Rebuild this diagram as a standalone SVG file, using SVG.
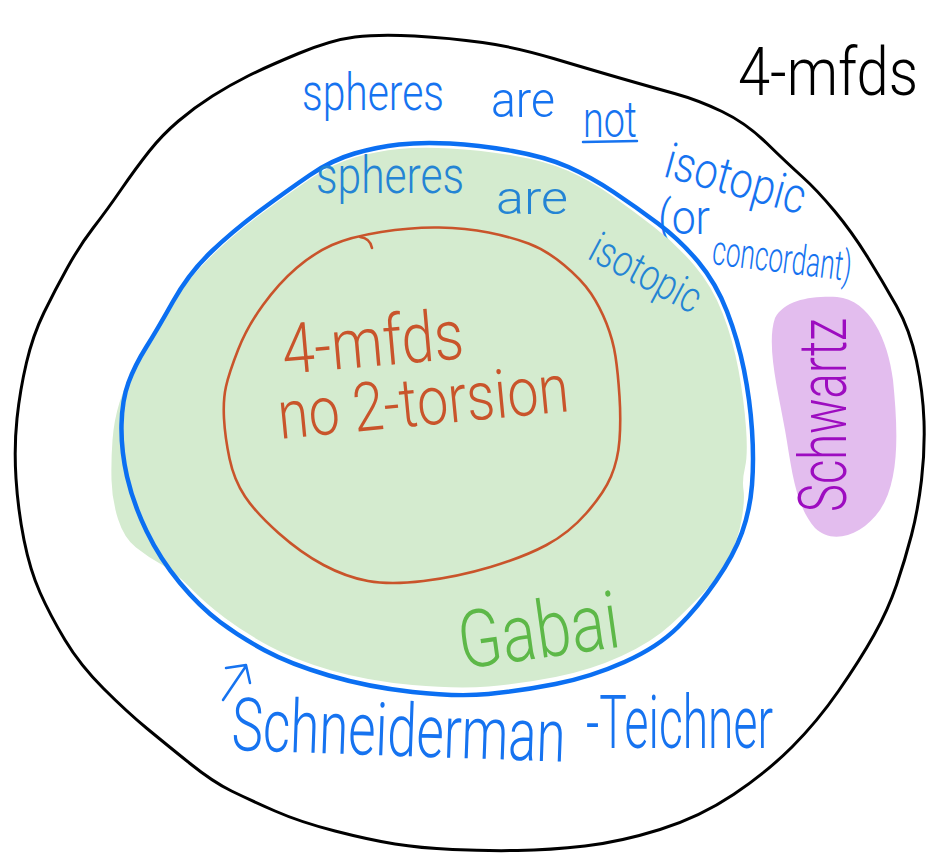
<svg xmlns="http://www.w3.org/2000/svg" width="927" height="854" viewBox="0 0 927 854">
  <style>
    .hand { font-family: Roboto, "Liberation Sans", sans-serif; font-weight: 300; }
    .outer-line { fill: none; stroke: #000; stroke-width: 3; stroke-linejoin: round; }
    .blue-line { fill: none; stroke: #0b6ff2; stroke-width: 4.5; stroke-linejoin: round; }
    .orange-line { fill: none; stroke: #c9542b; stroke-width: 2.6; stroke-linejoin: round; stroke-linecap: round; }
    .t-black { fill: #000; }
    .t-blue { fill: #1673f0; }
    .t-inner { fill: #2484d4; }
    .t-orange { fill: #c9542b; }
    .t-green { fill: #5db848; }
    .t-purple { fill: #9d0cc0; }
  </style>
  <rect width="927" height="854" fill="#fff"/>

  <!-- all 4-manifolds -->
  <g id="all-4mfds">
    <path class="outer-line" d="M414.5,36 Q450,38 482.5,42.5 Q515,47 553.5,58.5 Q592,70 621.5,78.5 Q651,87 674.5,93.5 Q698,100 722,111.5 Q746,123 766.5,143 Q787,163 802,176.5 Q817,190 834.5,211 Q852,232 867.5,257 Q883,282 896.5,306 Q910,330 916.5,361 Q923,392 924,421 Q925,450 921.5,480 Q918,510 911.5,535 Q905,560 896.5,585 Q888,610 874,635 Q860,660 838.5,691 Q817,722 792,747 Q767,772 733.5,794.5 Q700,817 660,829.5 Q620,842 585,846 Q550,850 517.5,850.5 Q485,851 452.5,849.5 Q420,848 395,844 Q370,840 335,831 Q300,822 275,811 Q250,800 231.5,791 Q213,782 190,763.5 Q167,745 147,728.5 Q127,712 103.5,688.5 Q80,665 65,640 Q50,615 40,592.5 Q30,570 24,540 Q18,510 16,478.5 Q14,447 17,418.5 Q20,390 26.5,362.5 Q33,335 44,312.5 Q55,290 67.5,267.5 Q80,245 93.5,227.5 Q107,210 121.5,189 Q136,168 149,151.5 Q162,135 178.5,121 Q195,107 212.5,96 Q230,85 248,76 Q266,67 298.5,53.5 Q331,40 355,37 Q379,34 414.5,36 Z"/>
    <text class="hand t-black" x="738" y="95" font-size="66" textLength="180" lengthAdjust="spacingAndGlyphs">4-mfds</text>
    <text class="hand t-blue" x="302" y="110" font-size="52" textLength="142" lengthAdjust="spacingAndGlyphs">spheres</text>
    <text class="hand t-blue" x="491" y="117" font-size="50" textLength="64" lengthAdjust="spacingAndGlyphs">are</text>
    <text class="hand t-blue" x="583" y="137" font-size="50" textLength="54" lengthAdjust="spacingAndGlyphs">not</text>
    <path d="M583,142 L637,141" fill="none" stroke="#1673f0" stroke-width="2.5" stroke-linecap="round"/>
    <text class="hand t-blue" font-size="50" textLength="144" lengthAdjust="spacingAndGlyphs" transform="translate(662,176) rotate(15.5)">isotopic</text>
    <text class="hand t-blue" x="658" y="234" font-size="48" textLength="52" lengthAdjust="spacingAndGlyphs">(or</text>
    <text class="hand t-blue" font-size="42" textLength="140" lengthAdjust="spacingAndGlyphs" transform="translate(711,264) rotate(7)">concordant)</text>
  </g>

  <!-- spheres isotopic region (Gabai) -->
  <g id="isotopic-region">
    <path fill="#d4ebcf" d="M450,148.5 Q479,150 512.5,155.5 Q546,161 568.5,171 Q591,181 611.5,195.5 Q632,210 654,227 Q676,244 694,265 Q712,286 722.5,313 Q733,340 738.5,370 Q744,400 746,427.5 Q748,455 745,467.5 Q742,480 743.5,490 Q745,500 741.5,520 Q738,540 729,557.5 Q720,575 705,591 Q690,607 671,624.5 Q652,642 621.5,656 Q591,670 555.5,677 Q520,684 488.5,686.5 Q457,689 412.5,685 Q368,681 331.5,670.5 Q295,660 270,646.5 Q245,633 225,618 Q205,603 190,587.5 Q175,572 161.5,564.5 Q148,557 136,547.5 Q124,538 118,519 Q112,500 111.5,480 Q111,460 112.5,440 Q114,420 119.5,402.5 Q125,385 135,367.5 Q145,350 155,332.5 Q165,315 177,296.5 Q189,278 211.5,256 Q234,234 261,214 Q288,194 310,179 Q332,164 354.5,157.5 Q377,151 399,149 Q421,147 450,148.5 Z"/>
    <path class="blue-line" d="M450,143.5 Q479,145 512.5,151 Q546,157 568.5,167 Q591,177 613.5,192 Q636,207 658,223.5 Q680,240 698,261.5 Q716,283 727,311.5 Q738,340 744,370 Q750,400 752,430 Q754,460 752,485 Q750,510 742,532.5 Q734,555 716,581 Q698,607 678,627 Q658,647 624.5,662 Q591,677 555.5,684 Q520,691 488.5,694 Q457,697 412.5,692 Q368,687 329,675.5 Q290,664 265,650.5 Q240,637 220,622 Q200,607 180,583 Q160,559 146.5,531 Q133,503 127,476.5 Q121,450 121.5,425 Q122,400 128.5,382.5 Q135,365 146,347.5 Q157,330 173,301.5 Q189,273 211.5,251.5 Q234,230 261,210 Q288,190 310,175 Q332,160 354.5,153.5 Q377,147 399,144.5 Q421,142 450,143.5 Z"/>
    <text class="hand t-inner" x="316" y="193" font-size="52" textLength="148" lengthAdjust="spacingAndGlyphs">spheres</text>
    <text class="hand t-inner" x="496" y="214" font-size="46" textLength="72" lengthAdjust="spacingAndGlyphs">are</text>
    <text class="hand t-inner" font-size="44" textLength="120" lengthAdjust="spacingAndGlyphs" transform="translate(586,258) rotate(28)">isotopic</text>
    <text class="hand t-green" font-size="80" textLength="162" lengthAdjust="spacingAndGlyphs" transform="translate(462,669) rotate(-8)">Gabai</text>
  </g>

  <!-- 4-manifolds with no 2-torsion -->
  <g id="no-2-torsion">
    <path class="orange-line" d="M439,227.5 Q466,228 488.5,232.5 Q511,237 528.5,243.5 Q546,250 564,265 Q582,280 591,293.5 Q600,307 606.5,323.5 Q613,340 615.5,356.5 Q618,373 619.5,396.5 Q621,420 619.5,440 Q618,460 611,476.5 Q604,493 586.5,513 Q569,533 546.5,545 Q524,557 490.5,567 Q457,577 423.5,581 Q390,585 368,581 Q346,577 323.5,565 Q301,553 278.5,533 Q256,513 245,496.5 Q234,480 229.5,458.5 Q225,437 224,418.5 Q223,400 226,386.5 Q229,373 238,350 Q247,327 263,305 Q279,283 296.5,268 Q314,253 332,245 Q350,237 381,232 Q412,227 439,227.5 Z"/>
    <path class="orange-line" d="M360,237 Q370,238 372,248"/>
    <text class="hand t-orange" font-size="70" textLength="182" lengthAdjust="spacingAndGlyphs" transform="translate(284,374) rotate(-5)">4-mfds</text>
    <text class="hand t-orange" font-size="68" textLength="292" lengthAdjust="spacingAndGlyphs" transform="translate(280,439) rotate(-5.5)">no 2-torsion</text>
  </g>

  <!-- Schwartz region -->
  <g id="schwartz">
    <path fill="#e3bdee" d="M837,297 C870,300 888,340 893,380 C898,430 900,480 880,510 C862,536 832,545 815,528 C795,505 792,470 785,430 C778,390 766,345 775,318 C785,300 810,296 837,297 Z"/>
    <text class="hand t-purple" font-size="66" textLength="194" lengthAdjust="spacingAndGlyphs" transform="translate(846,512) rotate(-90)">Schwartz</text>
  </g>

  <!-- Schneiderman-Teichner label pointing at the isotopic boundary -->
  <g id="connectors">
    <path d="M223,700 L246,666 M226,668 L246,665 L250,683" fill="none" stroke="#1673f0" stroke-width="2.5" stroke-linecap="round" stroke-linejoin="round"/>
  </g>
  <g id="schneiderman-teichner">
    <text class="hand t-blue" font-size="74" textLength="334" lengthAdjust="spacingAndGlyphs" transform="translate(231,750) rotate(2)">Schneiderman</text>
    <text class="hand t-blue" x="586" y="748" font-size="74" textLength="187" lengthAdjust="spacingAndGlyphs">-Teichner</text>
  </g>
</svg>
